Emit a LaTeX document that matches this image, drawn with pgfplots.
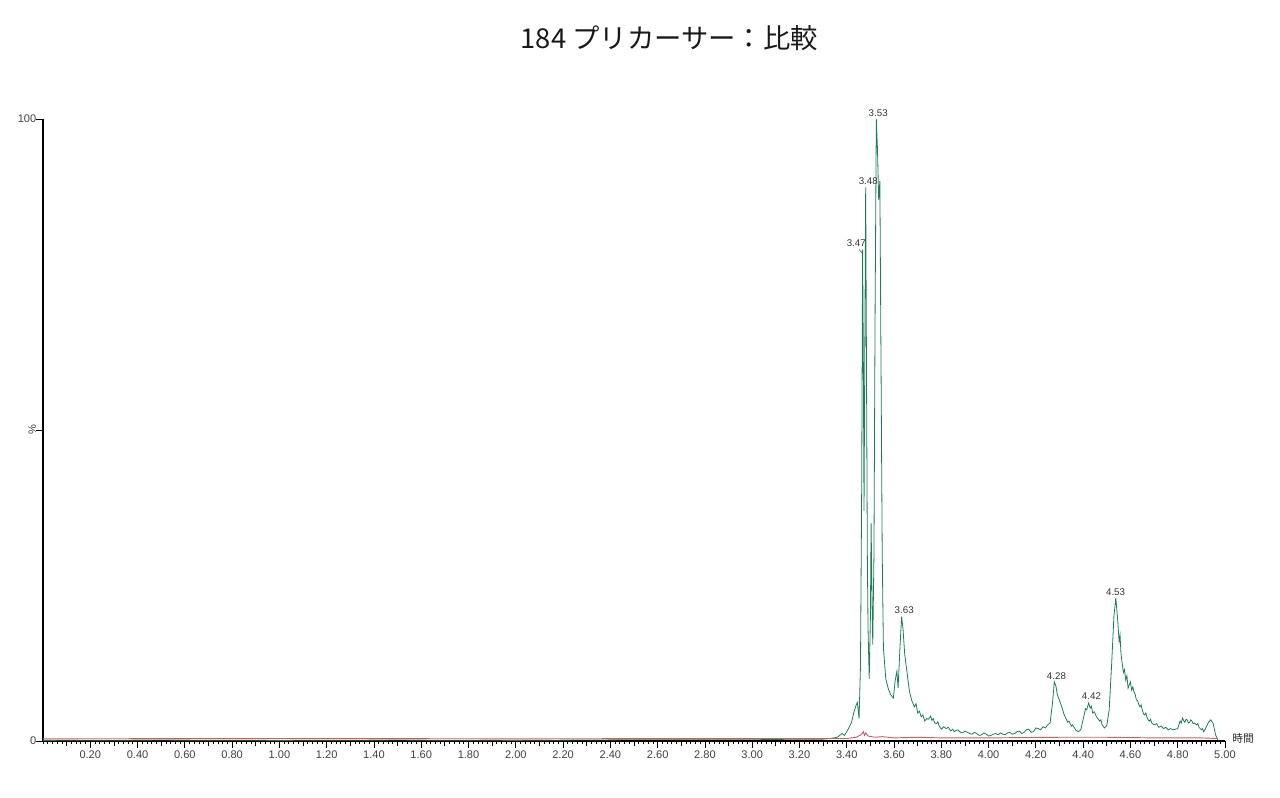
\documentclass[border=0pt]{standalone}
\usepackage{fontspec}
\setmainfont{Liberation Sans}
\newfontfamily\cjk{Noto Sans CJK JP}
\usepackage{pgfplots}
\pgfplotsset{compat=1.18}
\definecolor{trgreen}{RGB}{30,125,85}
\definecolor{trred}{RGB}{205,95,95}
\pgfplotstableread{
x y
0.00 0.1
0.50 0.15
1.00 0.1
1.50 0.15
2.00 0.1
2.50 0.2
3.00 0.2
3.20 0.3
3.30 0.3
3.33 0.4
3.36 0.6
3.38 1.2
3.39 0.9
3.40 1.5
3.41 2.2
3.42 3.0
3.43 4.6
3.44 5.8
3.445 6.2
3.452 3.6
3.458 12
3.463 40
3.467 79
3.470 62
3.473 37
3.476 60
3.480 89
3.484 55
3.487 30
3.490 18
3.495 10
3.500 20
3.503 35
3.507 22
3.510 15.5
3.515 30
3.520 70
3.525 100
3.530 95
3.535 87
3.540 90
3.545 60
3.550 30
3.555 15
3.565 10
3.575 8.5
3.585 7.5
3.597 6.9
3.605 9.8
3.612 11.2
3.617 8.5
3.625 15
3.632 20
3.638 18
3.645 14
3.655 11
3.665 8
3.675 6.5
3.686 5.5
3.693 6.0
3.70 4.5
3.707 4.8
3.715 3.9
3.722 4.2
3.73 3.2
3.738 3.6
3.745 3.5
3.755 4.0
3.76 3.3
3.766 3.6
3.772 2.9
3.78 2.8
3.785 3.1
3.79 2.5
3.795 2.2
3.80 1.9
3.81 2.3
3.82 2.0
3.83 2.2
3.84 1.6
3.848 1.9
3.855 1.5
3.862 1.7
3.87 1.8
3.88 1.4
3.89 1.3
3.90 1.6
3.91 1.4
3.92 1.2
3.93 1.1
3.94 1.4
3.95 1.2
3.96 0.9
3.97 1.0
3.98 1.3
3.99 1.1
4.00 0.8
4.01 0.9
4.02 1.1
4.03 1.2
4.04 1.0
4.05 1.3
4.06 1.1
4.07 1.0
4.08 1.3
4.09 1.4
4.10 1.1
4.11 1.2
4.12 1.5
4.13 1.6
4.14 1.2
4.15 1.4
4.16 1.8
4.17 1.9
4.18 1.4
4.19 1.5
4.20 2.1
4.21 2.0
4.22 1.8
4.23 2.3
4.24 2.1
4.25 2.6
4.26 2.9
4.27 6
4.278 9.5
4.285 8.8
4.29 7.6
4.295 7.0
4.305 6.0
4.31 5.4
4.315 4.8
4.32 4.2
4.325 3.8
4.335 3.0
4.34 3.2
4.35 2.4
4.355 2.6
4.365 2.0
4.37 1.7
4.38 1.5
4.39 1.8
4.40 3.5
4.41 5.2
4.415 5.0
4.423 6.1
4.43 5.3
4.435 5.6
4.44 4.5
4.447 4.7
4.455 4.0
4.46 3.7
4.47 3.2
4.475 3.4
4.48 2.6
4.49 2.1
4.50 2.5
4.51 5
4.52 12
4.53 20
4.538 23
4.545 20
4.552 16
4.556 17
4.56 14
4.565 12.5
4.57 11
4.575 11.5
4.58 9.8
4.585 10.5
4.59 8.5
4.595 9.0
4.60 9.5
4.605 8.2
4.61 8.7
4.615 7.9
4.62 7.5
4.625 6.6
4.63 6.5
4.635 5.9
4.64 5.5
4.645 5.8
4.65 5.0
4.655 4.4
4.66 4.2
4.665 4.5
4.67 3.8
4.675 3.4
4.68 3.2
4.685 3.5
4.69 2.9
4.70 2.6
4.71 2.8
4.72 2.2
4.73 2.4
4.74 2.0
4.75 2.2
4.76 1.8
4.77 2.0
4.78 1.8
4.79 1.9
4.80 2.0
4.81 3.2
4.815 2.9
4.82 3.7
4.825 3.3
4.83 3.0
4.835 3.5
4.84 3.4
4.845 2.9
4.85 3.0
4.855 3.4
4.86 3.2
4.865 2.8
4.87 2.9
4.88 2.6
4.885 2.8
4.89 2.2
4.90 1.8
4.905 2.0
4.91 1.5
4.92 2.2
4.93 3.0
4.94 3.4
4.945 3.1
4.95 2.8
4.96 1.0
4.97 0.2
}\greentrace
\pgfplotstableread{
x y
0.00 0.35
1.00 0.4
2.00 0.35
3.00 0.4
3.40 0.4
3.44 0.6
3.46 1.0
3.47 1.5
3.475 0.9
3.48 1.3
3.49 0.8
3.52 0.6
3.55 0.7
3.60 0.5
3.70 0.6
3.80 0.5
4.00 0.5
4.30 0.6
4.50 0.6
4.70 0.5
4.90 0.5
4.97 0.4
}\redtrace
\begin{document}
\begin{tikzpicture}[x=1pt,y=1pt]
\path[use as bounding box] (0,0) rectangle (960,597.75);
\node[font=\cjk\fontsize{20.5}{24}\selectfont, text=black!90] at (502,569) {184 プリカーサー：比較};
\begin{axis}[
  at={(32.25pt,42pt)}, anchor=south west,
  scale only axis, width=886.5pt, height=466.5pt,
  xmin=0, xmax=5, ymin=0, ymax=100,
  clip=false,
  axis lines*=left,
  axis line style={black, line width=1.1pt},
  tick align=outside,
  tick style={black, line width=0.6pt},
  major tick length=5pt,
  minor tick length=2.5pt,
  xtick={0.2,0.4,0.6,0.8,1.0,1.2,1.4,1.6,1.8,2.0,2.2,2.4,2.6,2.8,3.0,3.2,3.4,3.6,3.8,4.0,4.2,4.4,4.6,4.8,5.0},
  minor xtick={0,0.02,...,5.001},
  extra x ticks={0.1,0.3,0.5,0.7,0.9,1.1,1.3,1.5,1.7,1.9,2.1,2.3,2.5,2.7,2.9,3.1,3.3,3.5,3.7,3.9,4.1,4.3,4.5,4.7,4.9},
  extra x tick labels={},
  extra x tick style={major tick length=3.5pt},
  xticklabel style={/pgf/number format/fixed, /pgf/number format/fixed zerofill, /pgf/number format/precision=2},
  ytick={0,50,100},
  yticklabels={0,\rotatebox{90}{\%},100},
  /pgf/number format/assume math mode=true,
  ticklabel style={font=\fontsize{8.3}{10}\selectfont, text=black!75},
  xticklabel style={yshift=1pt},
  yticklabel style={xshift=3.5pt},
]
\addplot[trgreen, line width=0.6pt] table[x=x,y=y]{\greentrace};
\addplot[trred, line width=0.7pt] table[x=x,y=y]{\redtrace};
\begin{scope}[every node/.style={font=\fontsize{7.3}{8}\selectfont, text=black!80, inner sep=0pt}]
\node at (axis cs:3.533,101.0) {3.53};
\node at (axis cs:3.491,90.0) {3.48};
\node at (axis cs:3.440,80.0) {3.47};
\node at (axis cs:3.643,21.1) {3.63};
\node at (axis cs:4.287,10.5) {4.28};
\node at (axis cs:4.435,7.2) {4.42};
\node at (axis cs:4.537,24.0) {4.53};
\end{scope}
\draw[black!70, line width=0.4pt] (axis cs:3.452,79.0) -- (axis cs:3.467,78.4);
\node[anchor=west, font=\cjk\fontsize{8}{9}\selectfont, text=black!85, inner sep=0pt] at (axis cs:5.03,0.4) {時間};
\end{axis}
\end{tikzpicture}
\end{document}
